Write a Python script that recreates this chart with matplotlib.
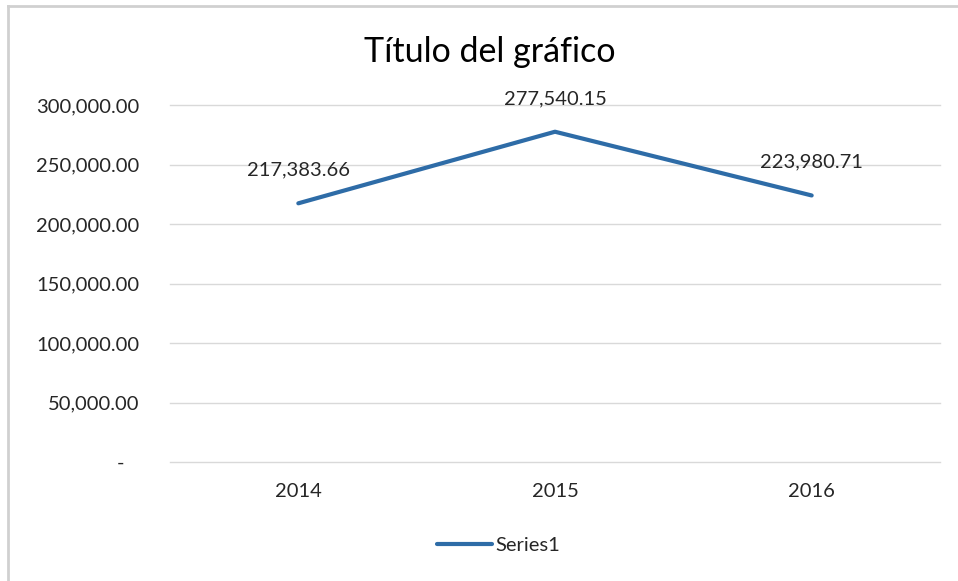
import matplotlib
matplotlib.use("Agg")
import matplotlib.pyplot as plt
from matplotlib.lines import Line2D

# data
years = ["2014", "2015", "2016"]
values = [217383.66, 277540.15, 223980.71]
y_ticks = [0, 50000, 100000, 150000, 200000, 250000, 300000]
y_labels = ["-   ", "50,000.00", "100,000.00", "150,000.00", "200,000.00", "250,000.00", "300,000.00"]

plt.rcParams['font.family'] = ['Lato', 'DejaVu Sans']
blue = '#2E6CA7'
txt = '#262626'
fs = 14.5

fig = plt.figure(figsize=(9.58, 5.81), dpi=100)
ax = fig.add_axes([170 / 958, 1 - 462 / 581, 770 / 958, 357 / 581])

x = range(len(years))
ax.plot(x, values, color=blue, lw=3, solid_capstyle='round', zorder=3)
for xi, v in zip(x, values):
    ax.annotate(f"{v:,.2f}", (xi, v), xytext=(0, 24), textcoords='offset points',
                ha='center', va='center', fontsize=fs, color=txt)

ax.set_xlim(-0.5, 2.5)
ax.set_ylim(0, 300000)
ax.set_yticks(y_ticks)
ax.set_yticklabels(y_labels)
ax.set_xticks(list(x))
ax.set_xticklabels(years)
ax.tick_params(axis='y', length=0, pad=22, labelsize=fs, labelcolor=txt)
ax.tick_params(axis='x', length=0, pad=15, labelsize=fs, labelcolor=txt)
ax.grid(axis='y', color='#D9D9D9', lw=1)
for gl in ax.get_ygridlines():
    gl.set_clip_on(False)
ax.set_axisbelow(True)
for s in ax.spines.values():
    s.set_visible(False)

fig.text(490 / 958, 1 - 52 / 581, "Título del gráfico", ha='center', va='center',
         fontsize=24.5, color='#000000')

handle = Line2D([], [], color=blue, lw=3, solid_capstyle='round')
fig.legend([handle], ["Series1"], loc='center', bbox_to_anchor=(499 / 958, 1 - 545 / 581),
           frameon=False, fontsize=fs, handlelength=2.7, handletextpad=0.2,
           labelcolor=txt)

# chart frame (top and left edges visible)
fig.add_artist(Line2D([8 / 958, 8 / 958], [0, 1 - 6 / 581], color='#D0D0D0', lw=2,
                      transform=fig.transFigure))
fig.add_artist(Line2D([8 / 958, 1], [1 - 6 / 581, 1 - 6 / 581], color='#D0D0D0', lw=2,
                      transform=fig.transFigure))

fig.savefig("out.png", dpi=100)
